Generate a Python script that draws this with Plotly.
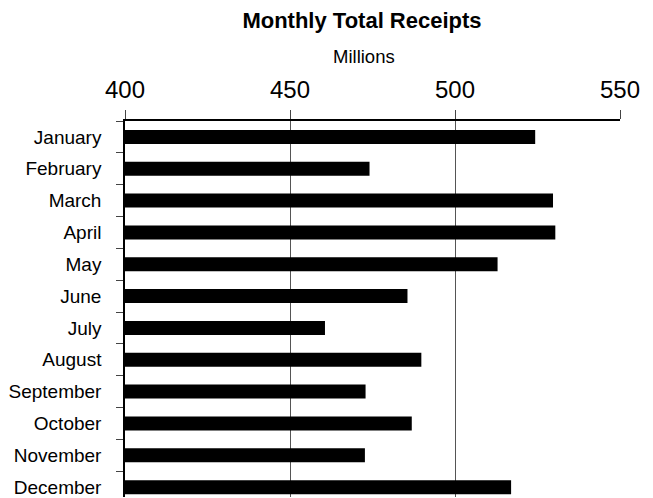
import plotly.graph_objects as go

months = ["January", "February", "March", "April", "May", "June",
          "July", "August", "September", "October", "November", "December"]
receipts = [524.3, 474.1, 529.7, 530.4, 512.9, 485.6,
            460.6, 489.8, 472.9, 486.9, 472.7, 517.0]
x_ticks = [400, 450, 500, 550]

FONT = "Liberation Sans, Arial, sans-serif"
W, H = 645, 490  # page body has an 8px margin
L, T, R = 114, 113, 33
PW, PH = W - L - R, H - T

fig = go.Figure(go.Bar(
    y=months, x=receipts, orientation="h",
    marker=dict(color="black", line=dict(width=0)),
    width=0.44, base=0,
))

fig.update_layout(
    width=W, height=H,
    margin=dict(l=L, r=R, t=T, b=0),
    paper_bgcolor="white", plot_bgcolor="white",
    showlegend=False,
    font=dict(family=FONT, color="black"),
    title=dict(text="<b>Monthly Total Receipts</b>", x=354/W, xanchor="center",
               y=1 - 12/H, yanchor="middle", yref="container",
               font=dict(size=22, family=FONT, color="black")),
    annotations=[dict(text="Millions", showarrow=False,
                      xref="paper", yref="paper",
                      x=(354 - L)/PW, y=1 + (T - 48.5)/PH,
                      xanchor="center", yanchor="middle",
                      font=dict(size=18.5, family=FONT, color="black"))],
)

fig.update_xaxes(
    side="top", range=[400, 550], tickvals=x_ticks,
    tickfont=dict(size=24, family=FONT, color="black"),
    ticks="outside", ticklen=9, tickcolor="#444", tickwidth=1,
    showgrid=True, gridcolor="#555", gridwidth=1,
    showline=True, linecolor="black", linewidth=1.5,
    zeroline=False, ticklabelstandoff=3,
)

fig.update_yaxes(
    type="category", categoryorder="array", categoryarray=months,
    range=[11.31, -0.5],
    tickfont=dict(size=19, family=FONT, color="black"),
    ticks="outside", tickson="boundaries", ticklen=7, tickcolor="#444", tickwidth=1,
    showgrid=False, showline=True, linecolor="black", linewidth=1.5,
    zeroline=False, ticklabelstandoff=18,
)

fig.write_html("out.html")
